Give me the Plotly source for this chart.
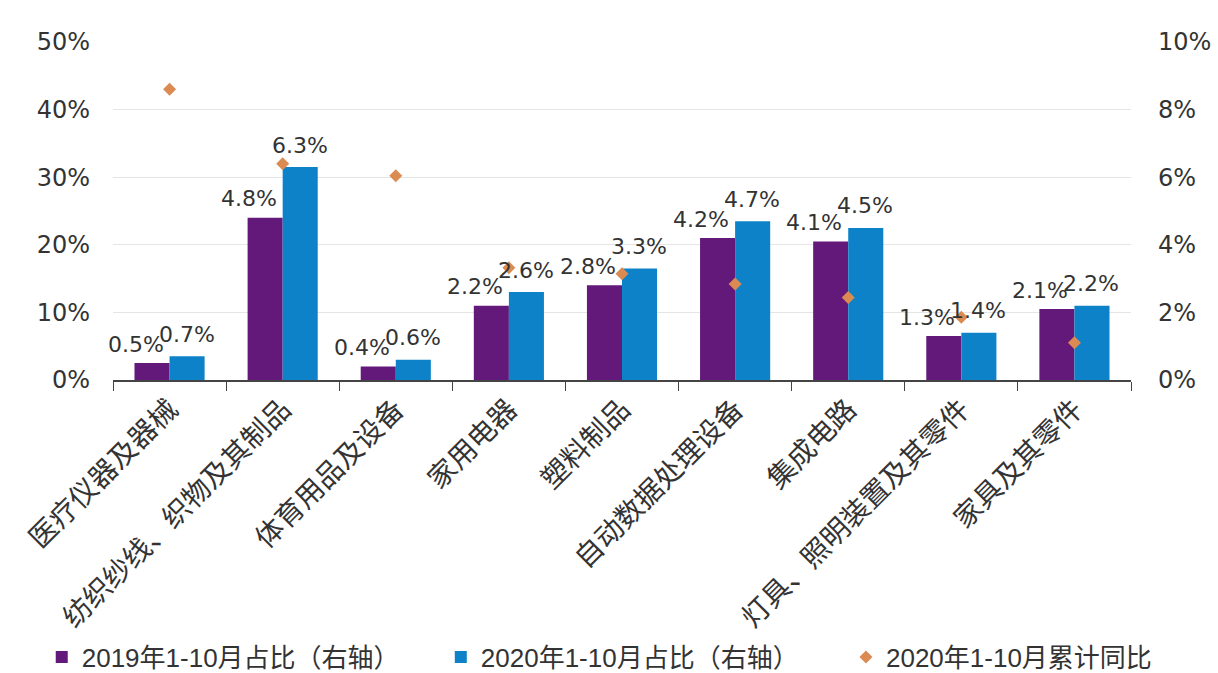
import plotly.graph_objects as go

categories = ["医疗仪器及器械", "纺织纱线、织物及其制品", "体育用品及设备", "家用电器", "塑料制品",
              "自动数据处理设备", "集成电路", "灯具、照明装置及其零件", "家具及其零件"]
share_2019 = [0.5, 4.8, 0.4, 2.2, 2.8, 4.2, 4.1, 1.3, 2.1]
share_2020 = [0.7, 6.3, 0.6, 2.6, 3.3, 4.7, 4.5, 1.4, 2.2]
yoy_2020 = [43.0, 32.0, 30.2, 16.6, 15.7, 14.2, 12.2, 9.3, 5.5]

PURPLE = "#63197A"
BLUE = "#0E82C8"
ORANGE = "#DB8B52"
TEXT = "#333333"
NUM_FONT = "DejaVu Sans"
CJK_FONT = "Noto Sans CJK SC"
LEGEND_FONT = "Liberation Sans, Noto Sans CJK SC"

fig = go.Figure()
fig.add_trace(go.Bar(x=categories, y=share_2019, name="2019年1-10月占比（右轴）",
                     marker=dict(color=PURPLE, line=dict(width=0)), yaxis="y", legend="legend"))
fig.add_trace(go.Bar(x=categories, y=share_2020, name="2020年1-10月占比（右轴）",
                     marker=dict(color=BLUE, line=dict(width=0)), yaxis="y", legend="legend2"))
fig.add_trace(go.Scatter(x=categories, y=yoy_2020, name="2020年1-10月累计同比", mode="markers",
                         marker=dict(symbol="diamond", size=10, color=ORANGE), yaxis="y2",
                         legend="legend3"))

# value labels above each bar (2019 labels sit a little to the left)
for cat, v in zip(categories, share_2019):
    fig.add_annotation(x=cat, y=v, xref="x", yref="y", text=f"{v:.1f}%", showarrow=False,
                       xshift=-34, yshift=19, font=dict(family=NUM_FONT, size=22, color=TEXT))
for cat, v in zip(categories, share_2020):
    fig.add_annotation(x=cat, y=v, xref="x", yref="y", text=f"{v:.1f}%", showarrow=False,
                       xshift=17, yshift=22, font=dict(family=NUM_FONT, size=22, color=TEXT))

legend_style = dict(orientation="h", y=-0.82, yanchor="middle", xanchor="left",
                    font=dict(family=LEGEND_FONT, size=26, color=TEXT),
                    itemwidth=30, bgcolor="rgba(0,0,0,0)")

fig.update_layout(
    width=1218, height=673,
    margin=dict(l=113, r=87, t=42, b=293, autoexpand=False),
    paper_bgcolor="white", plot_bgcolor="white",
    barmode="group", bargap=0.38, bargroupgap=0,
    font=dict(family=CJK_FONT, color=TEXT),
    xaxis=dict(
        range=[-0.5, len(categories) - 0.5],
        tickangle=-45, tickfont=dict(family=CJK_FONT, size=28, color=TEXT),
        showline=True, linecolor="#444444", linewidth=1.5,
        ticks="outside", tickson="boundaries", ticklen=9, tickcolor="#444444",
        showgrid=False,
    ),
    yaxis=dict(
        side="right", range=[0, 10], dtick=2, ticksuffix="%",
        tickfont=dict(family=NUM_FONT, size=24, color=TEXT),
        showgrid=True, gridcolor="#E5E5E5", gridwidth=1, zeroline=False,
        ticks="", ticklabelstandoff=26,
    ),
    yaxis2=dict(
        side="left", overlaying="y", range=[0, 50], dtick=10, ticksuffix="%",
        tickfont=dict(family=NUM_FONT, size=24, color=TEXT),
        showgrid=False, zeroline=False, ticks="", ticklabelstandoff=22,
    ),
    legend=dict(x=-0.07, **legend_style),
    legend2=dict(x=0.322, **legend_style),
    legend3=dict(x=0.72, **legend_style),
    showlegend=True,
)

fig.write_html("out.html")
